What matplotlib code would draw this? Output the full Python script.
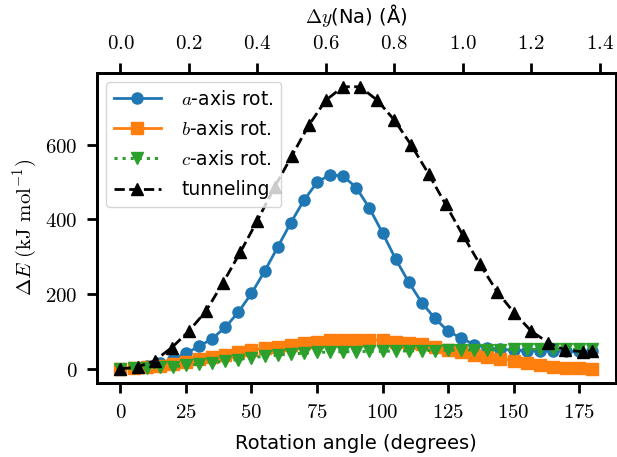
import matplotlib
matplotlib.use("Agg")
import matplotlib.pyplot as plt
import numpy as np
from matplotlib.ticker import FuncFormatter

plt.rcParams["mathtext.fontset"] = "cm"
plt.rcParams["font.size"] = 14

# rotation scans, 5 degree steps
angle = np.arange(0, 181, 5)
e_a = [0, 2, 8, 15, 26, 42, 60, 81, 111, 152, 202, 261, 326, 391, 451, 499, 520,
       516, 485, 430, 364, 294, 232, 177, 135, 101, 82, 65, 56, 52, 50, 49, 48,
       47, 47, 47, 47]
e_b = [0, 1, 4, 8, 12, 19, 27, 32, 38, 45, 50, 55, 59, 63, 69, 73, 76, 78, 78,
       78, 76, 73, 70, 67, 58, 50, 44, 38, 33, 27, 22, 17, 11, 6, 3, 1, 0]
e_c = [0, 1, 2, 4, 6, 9, 13, 17, 21, 25, 30, 34, 37, 40, 42, 44, 45, 46, 46, 47,
       47, 48, 48, 49, 49, 50, 50, 51, 51, 51, 52, 52, 52, 52, 52, 52, 52]

# tunneling path, Na displacement in Angstrom
dy_max = 1.378
dy = [0.0, 0.05, 0.10, 0.15, 0.20, 0.25, 0.30, 0.35, 0.40, 0.45, 0.50, 0.55,
      0.60, 0.65, 0.70, 0.75, 0.80, 0.85, 0.90, 0.95, 1.00, 1.05, 1.10, 1.15,
      1.20, 1.25, 1.30, 1.35, dy_max]
e_tun = [0, 5, 22, 57, 101, 155, 231, 312, 397, 486, 569, 652, 719, 755, 755,
         719, 666, 598, 522, 440, 358, 280, 207, 150, 101, 70, 50, 46, 47]

fig = plt.figure(figsize=(6.17, 4.57), dpi=100)
ax = fig.add_axes([0.157, 0.162, 0.841, 0.679])

ax.plot(angle, e_a, "-o", color="#1f77b4", lw=2, ms=8, label=r"$a$-axis rot.")
ax.plot(angle, e_b, "-s", color="#ff7f0e", lw=2, ms=8, label=r"$b$-axis rot.")
ax.plot(angle, e_c, ":v", color="#2ca02c", lw=2.2, ms=8, label=r"$c$-axis rot.")

ax2 = ax.twiny()
ax2.plot(dy, e_tun, "--^", color="black", lw=2, ms=8, label="tunneling")

ax.set_xlim(-9, 189)
scale = dy_max / 180
ax2.set_xlim(-9 * scale, 189 * scale)

ax.set_xticks(np.arange(0, 176, 25))
ax.set_yticks([0, 200, 400, 600])
ax2.set_xticks(np.arange(0, 1.41, 0.2))
ax.xaxis.set_major_formatter(FuncFormatter(lambda v, p: f"${v:.0f}$"))
ax.yaxis.set_major_formatter(FuncFormatter(lambda v, p: f"${v:.0f}$"))
ax2.xaxis.set_major_formatter(FuncFormatter(lambda v, p: f"${v:.1f}$"))

for a in (ax, ax2):
    for s in a.spines.values():
        s.set_linewidth(2)
    a.tick_params(width=2, length=7, labelsize=15, pad=7)

ax.set_xlabel("Rotation angle (degrees)", fontsize=14, labelpad=8)
ax.set_ylabel(r"$\Delta E\ (\mathrm{kJ\ mol^{-1}})$", fontsize=15)
ax2.set_xlabel(r"$\Delta y$(Na) (Å)", fontsize=14, labelpad=7)

h1, l1 = ax.get_legend_handles_labels()
h2, l2 = ax2.get_legend_handles_labels()
ax2.legend(h1 + h2, l1 + l2, loc="upper left", fontsize=13.5,
           borderaxespad=0.5, handlelength=2.5, handletextpad=1.1,
           labelspacing=0.6)

fig.savefig("out.png")
